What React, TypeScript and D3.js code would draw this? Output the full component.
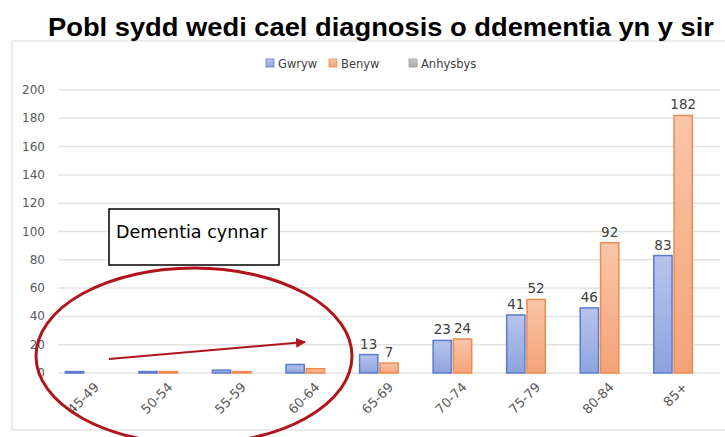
import * as d3 from "d3";

const categories = ["45-49", "50-54", "55-59", "60-64", "65-69", "70-74", "75-79", "80-84", "85+"];
const gwryw = [1, 1, 2, 6, 13, 23, 41, 46, 83];
const benyw = [0, 1, 1, 3, 7, 24, 52, 92, 182];
const anhysbys = [0, 0, 0, 0, 0, 0, 0, 0, 0];
const yTicks = [0, 20, 40, 60, 80, 100, 120, 140, 160, 180, 200];
const seriesNames = ["Gwryw", "Benyw", "Anhysbys"];
const seriesValues = [gwryw, benyw, anhysbys];
// labels are only shown from 65-69 onwards in the original
const firstLabelled = 4;

const W = 725;
const H = 437;
const font = "'DejaVu Sans', sans-serif";

const colors = [
  { top: "#b7c4ec", bottom: "#8ea3de", stroke: "#5a7bd1" },
  { top: "#f9c6a8", bottom: "#f4a378", stroke: "#ef8a4d" },
  { top: "#c8c8c8", bottom: "#a9a9a9", stroke: "#a0a0a0" },
];

export default function App() {
  const x = d3.scaleBand().domain(categories).range([58, 720]).paddingInner(0.2).paddingOuter(0.1);
  const xs = d3.scaleBand().domain(seriesNames).range([0, x.bandwidth()]).paddingInner(0.1);
  const y = d3.scaleLinear().domain([0, 200]).range([373, 90]);

  const legendX = [266, 329, 409];

  return (
    <svg width={W} height={H} style={{ position: "absolute", left: 0, top: 0, background: "#fff" }}>
      <defs>
        {colors.map((c, i) => (
          <linearGradient key={i} id={`g${i}`} x1="0" y1="0" x2="0" y2="1">
            <stop offset="0%" stopColor={c.top} />
            <stop offset="100%" stopColor={c.bottom} />
          </linearGradient>
        ))}
        <marker id="arrow" viewBox="0 0 10 10" refX="9" refY="5" markerWidth="5" markerHeight="5" orient="auto">
          <path d="M0,0 L10,5 L0,10 z" fill="#b0141c" />
        </marker>
      </defs>

      {/* chart frame */}
      <rect x={12} y={41} width={720} height={389} fill="none" stroke="#d9d9d9" />

      <text x={48} y={36} textLength={666} lengthAdjust="spacingAndGlyphs" fontFamily="'Liberation Sans', Arial, sans-serif" fontWeight="bold" fontSize={25} fill="#000">
        Pobl sydd wedi cael diagnosis o ddementia yn y sir
      </text>

      {/* legend */}
      {seriesNames.map((s, i) => (
        <g key={s}>
          <rect x={legendX[i]} y={59} width={8} height={8} fill={`url(#g${i})`} stroke={colors[i].stroke} strokeWidth={0.8} />
          <text x={legendX[i] + 12} y={67.5} fontFamily={font} fontSize={11.5} fill="#404040">{s}</text>
        </g>
      ))}

      {/* grid + y axis */}
      {yTicks.map((t) => (
        <g key={t}>
          <line x1={58} x2={720} y1={y(t)} y2={y(t)} stroke="#e3e3e3" strokeWidth={1.5} />
          <text x={45} y={y(t) + 4} textAnchor="end" fontFamily={font} fontSize={12} fill="#595959">{t}</text>
        </g>
      ))}

      {/* bars */}
      {categories.map((c, ci) => (
        <g key={c} transform={`translate(${x(c)},0)`}>
          {seriesValues.map((vals, si) => {
            const v = vals[ci];
            if (!v) return null;
            const bx = xs(seriesNames[si])!;
            const bw = xs.bandwidth();
            return (
              <g key={si}>
                <rect x={bx} y={y(v)} width={bw} height={y(0) - y(v)} fill={`url(#g${si})`} stroke={colors[si].stroke} strokeWidth={1.5} />
                {ci >= firstLabelled && (
                  <text x={bx + bw / 2} y={y(v) - 6} textAnchor="middle" fontFamily={font} fontSize={13.5} fill="#404040">{v}</text>
                )}
              </g>
            );
          })}
        </g>
      ))}

      {/* x labels */}
      {categories.map((c) => {
        const cx = x(c)! + x.bandwidth() / 2;
        return (
          <text key={c} transform={`translate(${cx + 5},388) rotate(-45)`} textAnchor="end" fontFamily={font} fontSize={13} fill="#595959">{c}</text>
        );
      })}

      {/* annotation */}
      <rect x={109} y={209} width={170} height={56} fill="#fff" stroke="#000" strokeWidth={1.5} />
      <text x={116} y={238} fontFamily={font} fontSize={17.5} fill="#000">Dementia cynnar</text>
      <ellipse cx={194} cy={356} rx={158} ry={88} fill="none" stroke="#b0141c" strokeWidth={3} />
      <line x1={109} y1={359} x2={305} y2={342} stroke="#b0141c" strokeWidth={2} markerEnd="url(#arrow)" />
    </svg>
  );
}
